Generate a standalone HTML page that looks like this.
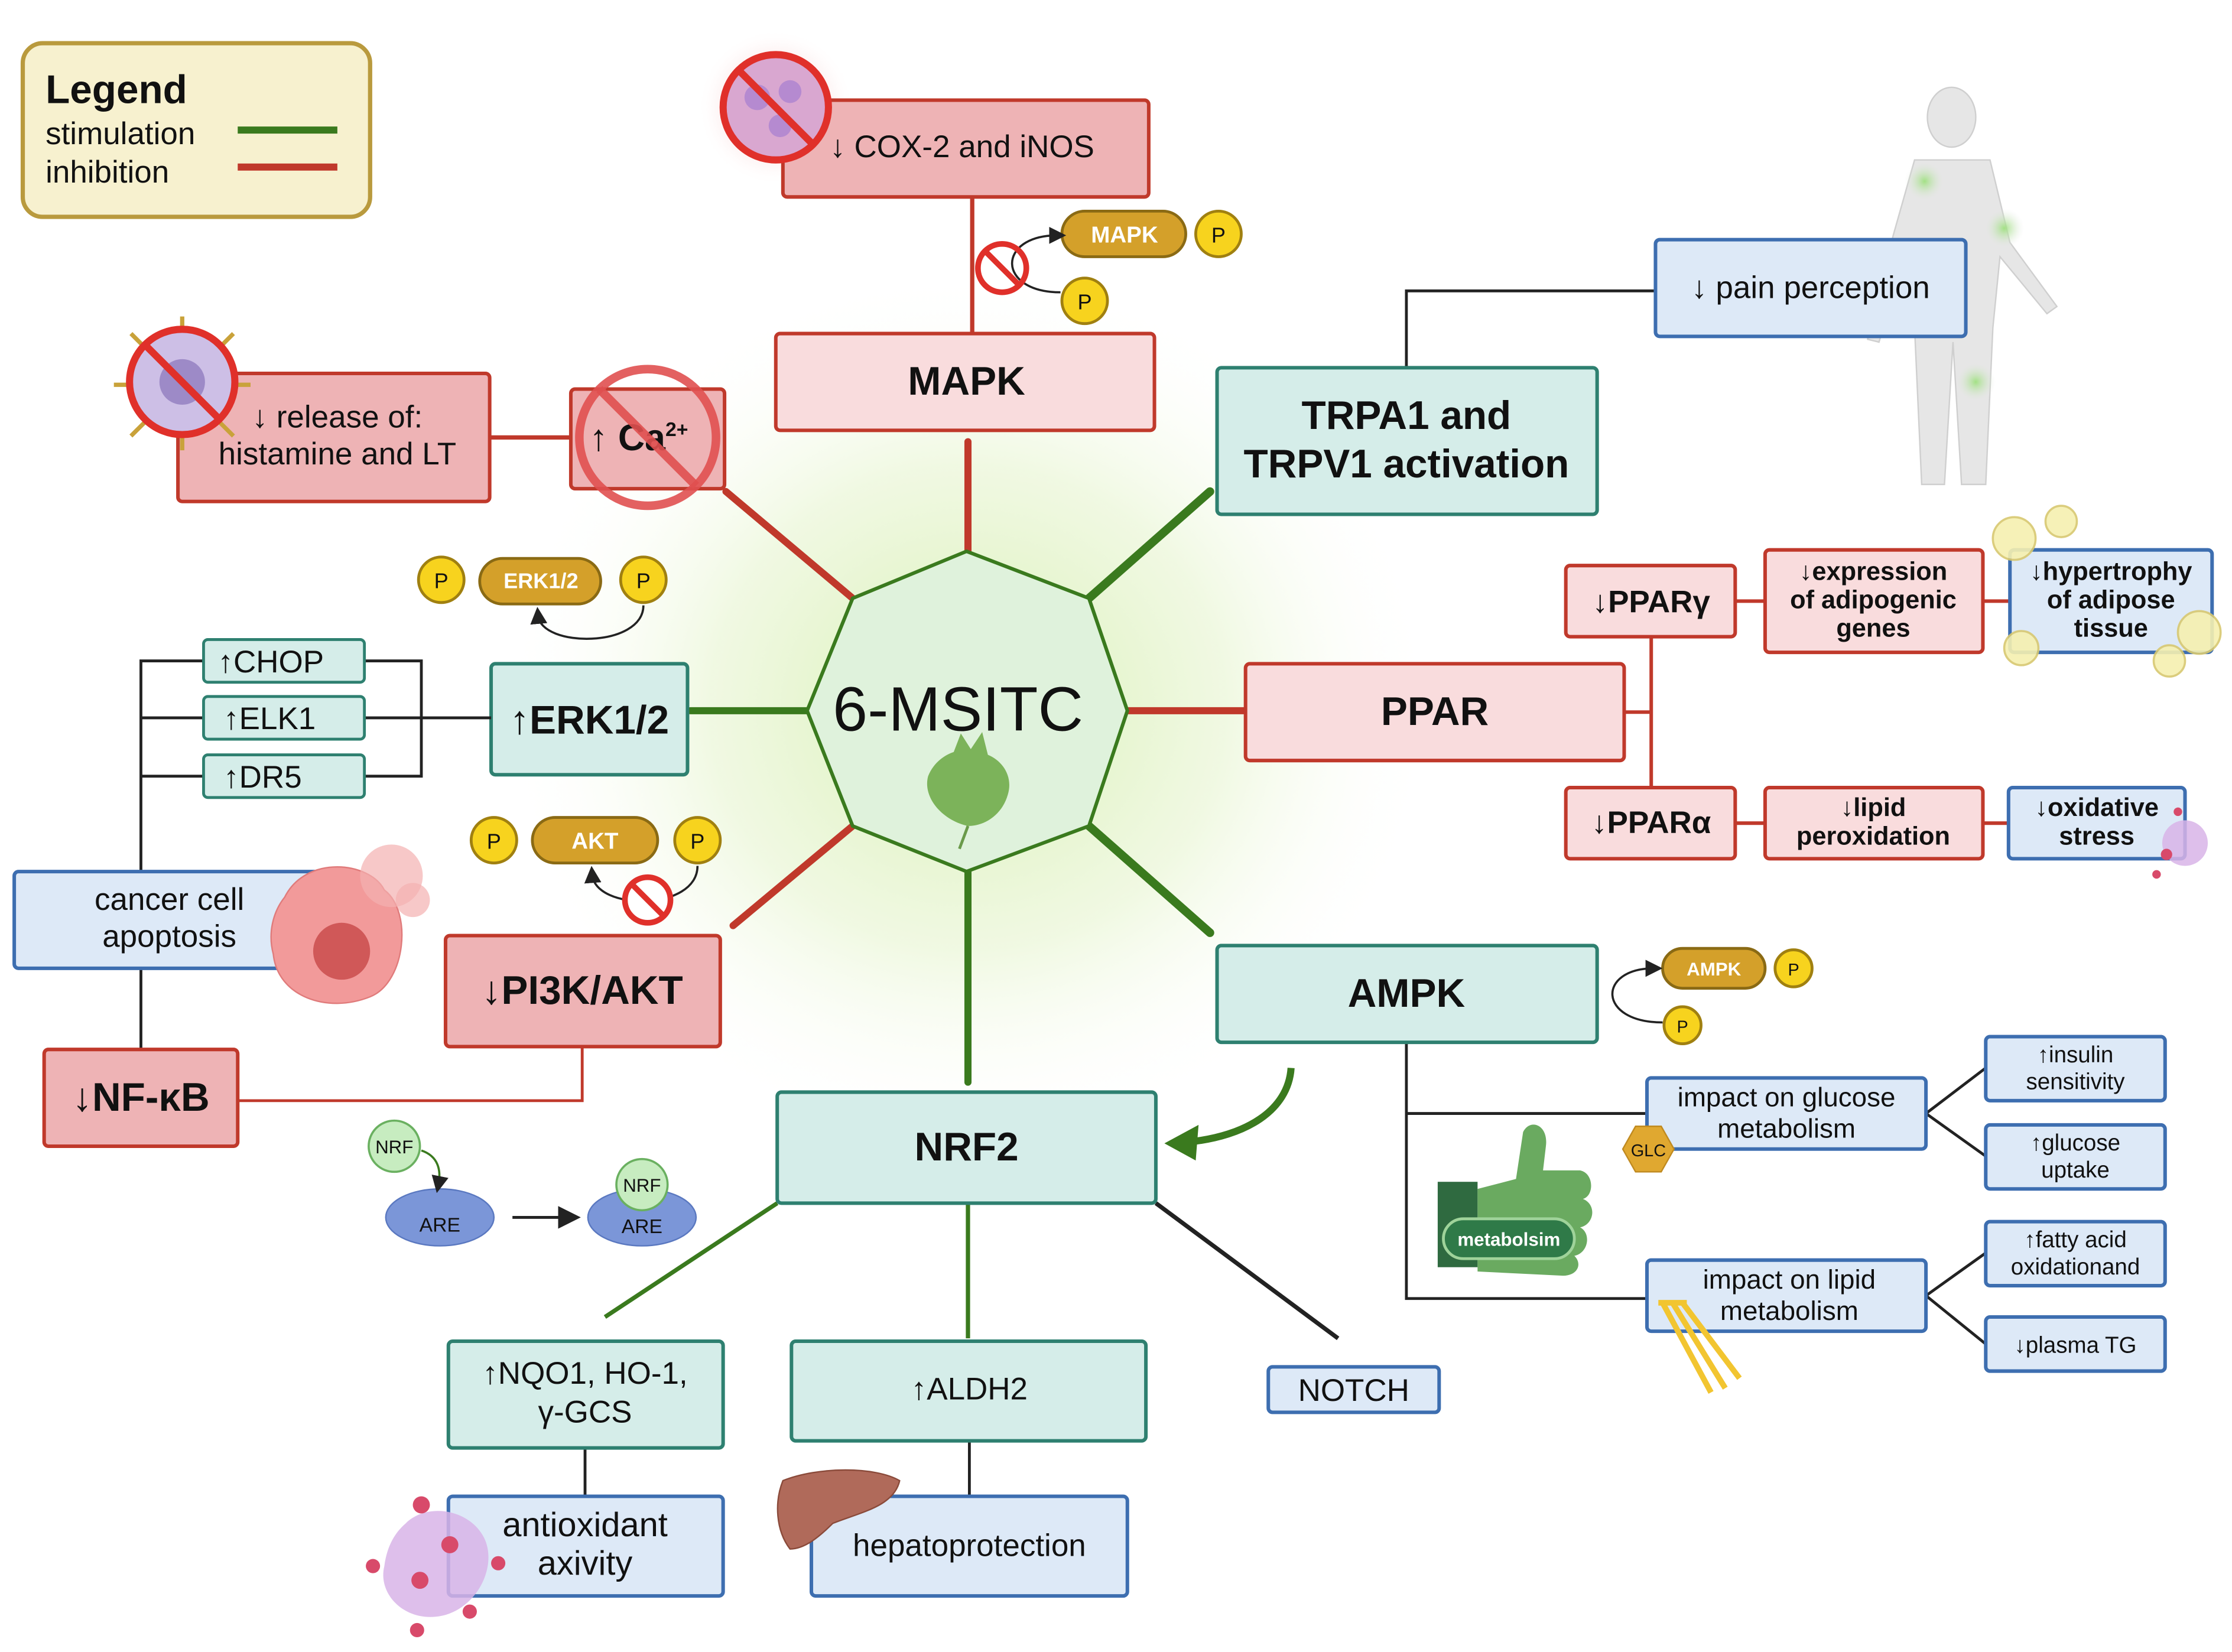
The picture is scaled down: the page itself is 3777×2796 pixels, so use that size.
<!DOCTYPE html>
<html><head><meta charset="utf-8"><style>
html,body{margin:0;padding:0;background:#fff;}
svg{display:block;}
text{font-family:"Liberation Sans",sans-serif;fill:#111;}
</style></head><body>
<svg width="3777" height="2796" viewBox="0 0 1568 1160" xmlns="http://www.w3.org/2000/svg">
<defs>
<radialGradient id="glow" cx="50%" cy="50%" r="50%">
<stop offset="0" stop-color="#d6efb0" stop-opacity="0.95"/>
<stop offset="0.55" stop-color="#eaf6d6" stop-opacity="0.7"/>
<stop offset="1" stop-color="#ffffff" stop-opacity="0"/>
</radialGradient>
<radialGradient id="redglow" cx="50%" cy="50%" r="50%">
<stop offset="0" stop-color="#f06060" stop-opacity="0.8"/>
<stop offset="1" stop-color="#ffffff" stop-opacity="0"/>
</radialGradient>
<radialGradient id="gspot" cx="50%" cy="50%" r="50%">
<stop offset="0" stop-color="#9be07a" stop-opacity="0.9"/>
<stop offset="1" stop-color="#e8e8e8" stop-opacity="0"/>
</radialGradient>
<marker id="ah" markerWidth="8" markerHeight="8" refX="4" refY="4" orient="auto"><path d="M0,0 L8,4 L0,8 z" fill="#222"/></marker>
</defs>

<!-- glow -->
<ellipse cx="680" cy="497" rx="330" ry="310" fill="url(#glow)"/>

<!-- spokes -->
<g stroke-width="5" stroke-linecap="round">
<line x1="680" y1="387" x2="680" y2="310" stroke="#c0392b"/>
<line x1="599" y1="420" x2="510" y2="345" stroke="#c0392b"/>
<line x1="765" y1="420" x2="850" y2="345" stroke="#3a7a1e" stroke-width="6"/>
<line x1="567" y1="499" x2="485" y2="499" stroke="#3a7a1e"/>
<line x1="792" y1="499" x2="875" y2="499" stroke="#c0392b"/>
<line x1="599" y1="580" x2="515" y2="650" stroke="#c0392b"/>
<line x1="765" y1="580" x2="850" y2="655" stroke="#3a7a1e" stroke-width="6"/>
<line x1="680" y1="612" x2="680" y2="760" stroke="#3a7a1e"/>
</g>

<!-- octagon -->
<polygon points="679,387 765,420 792,499 765,580 679,612 599,580 567,499 599,420" fill="#dff2dc" stroke="#3a7a1e" stroke-width="2.5"/>
<text x="673" y="513" font-size="44" text-anchor="middle">6-MSITC</text>
<path d="M680,580 C662,576 648,560 652,545 C656,535 664,530 670,528 L675,515 L682,526 L690,514 L694,530 C704,534 712,545 708,558 C704,572 692,580 680,580 Z" fill="#7cb35a"/>
<line x1="680" y1="580" x2="674" y2="596" stroke="#6a9a4a" stroke-width="2"/>

<!-- Legend -->
<rect x="16" y="30" width="244" height="122" rx="14" fill="#f7f1cf" stroke="#b99a3e" stroke-width="3"/>
<text x="32" y="72" font-size="28" font-weight="bold">Legend</text>
<text x="32" y="101" font-size="22">stimulation</text>
<text x="32" y="128" font-size="22">inhibition</text>
<line x1="167" y1="91" x2="237" y2="91" stroke="#3a7a1e" stroke-width="5"/>
<line x1="167" y1="117" x2="237" y2="117" stroke="#c0392b" stroke-width="5"/>

<!-- COX-2 -->
<circle cx="545" cy="75" r="55" fill="url(#redglow)"/>
<line x1="683" y1="234" x2="683" y2="138" stroke="#c0392b" stroke-width="3"/>
<rect x="550" y="70" width="257" height="68" rx="3" fill="#eeb3b5" stroke="#c0392b" stroke-width="2.5"/>
<text x="583" y="110" font-size="22">↓ COX-2 and iNOS</text>
<circle cx="545" cy="75" r="37" fill="#d9a7d0" stroke="#e0302a" stroke-width="5"/>
<circle cx="532" cy="68" r="9" fill="#b58ad0"/><circle cx="555" cy="64" r="8" fill="#b58ad0"/><circle cx="548" cy="88" r="8" fill="#b58ad0"/>
<line x1="519" y1="49" x2="571" y2="101" stroke="#e0302a" stroke-width="5"/>

<!-- MAPK -->
<rect x="545" y="234" width="266" height="68" rx="3" fill="#f9dcdd" stroke="#c0392b" stroke-width="2.5"/>
<text x="679" y="277" font-size="28" font-weight="bold" text-anchor="middle">MAPK</text>
<rect x="746" y="148" width="87" height="32" rx="16" fill="#d4a02a" stroke="#8a6a14" stroke-width="2"/>
<text x="790" y="170" font-size="16" font-weight="bold" fill="#fff" text-anchor="middle" style="fill:#fff">MAPK</text>
<circle cx="856" cy="164" r="16" fill="#f7d31e" stroke="#a08010" stroke-width="2"/><text x="856" y="170" font-size="15" text-anchor="middle">P</text>
<circle cx="762" cy="211" r="16" fill="#f7d31e" stroke="#a08010" stroke-width="2"/><text x="762" y="217" font-size="15" text-anchor="middle">P</text>
<path d="M745,205 C700,205 700,165 743,165" fill="none" stroke="#222" stroke-width="1.5" marker-end="url(#ah)"/>
<circle cx="704" cy="188" r="17" fill="none" stroke="#e0302a" stroke-width="4"/>
<line x1="692" y1="176" x2="716" y2="200" stroke="#e0302a" stroke-width="4"/>

<!-- TRPA1 -->
<polyline points="988,258 988,204 1163,204" fill="none" stroke="#222" stroke-width="2"/>
<rect x="855" y="258" width="267" height="103" rx="3" fill="#d5ede9" stroke="#2e8070" stroke-width="2.5"/>
<text x="988" y="301" font-size="28" font-weight="bold" text-anchor="middle">TRPA1 and</text>
<text x="988" y="335" font-size="28" font-weight="bold" text-anchor="middle">TRPV1 activation</text>
<!-- human -->
<g fill="#e6e6e6" stroke="#cfcfcf" stroke-width="1">
<ellipse cx="1371" cy="82" rx="17" ry="21"/>
<path d="M1345,112 L1398,112 L1412,170 L1445,215 L1438,220 L1405,180 L1400,230 L1395,340 L1378,340 L1372,240 L1366,340 L1350,340 L1345,230 L1338,180 L1320,240 L1312,238 L1330,165 Z"/>
</g>
<circle cx="1352" cy="127" r="14" fill="url(#gspot)"/>
<circle cx="1408" cy="160" r="14" fill="url(#gspot)"/>
<circle cx="1388" cy="268" r="14" fill="url(#gspot)"/>
<rect x="1163" y="168" width="218" height="68" rx="3" fill="#dde9f7" stroke="#3d6eb0" stroke-width="2.5"/>
<text x="1272" y="209" font-size="22" text-anchor="middle">↓ pain perception</text>

<!-- release / Ca -->
<line x1="344" y1="307" x2="401" y2="307" stroke="#c0392b" stroke-width="3"/>
<rect x="125" y="262" width="219" height="90" rx="3" fill="#eeb3b5" stroke="#c0392b" stroke-width="2.5"/>
<text x="237" y="300" font-size="22" text-anchor="middle">↓ release of:</text>
<text x="237" y="326" font-size="22" text-anchor="middle">histamine and LT</text>
<g stroke="#c9a23a" stroke-width="3"><line x1="80" y1="270" x2="176" y2="270"/><line x1="128" y1="222" x2="128" y2="316"/><line x1="92" y1="234" x2="164" y2="306"/><line x1="164" y1="234" x2="92" y2="306"/></g>
<circle cx="128" cy="268" r="37" fill="#cdbfe6" stroke="#e0302a" stroke-width="5"/>
<circle cx="128" cy="268" r="16" fill="#9d8ac7"/>
<line x1="102" y1="242" x2="154" y2="294" stroke="#e0302a" stroke-width="5"/>
<rect x="401" y="273" width="108" height="70" rx="3" fill="#eeb3b5" stroke="#c0392b" stroke-width="2.5"/>
<text x="414" y="316" font-size="26" font-weight="bold">↑ Ca<tspan font-size="14" dy="-10">2+</tspan></text>
<circle cx="455" cy="307" r="48" fill="none" stroke="#e05050" stroke-width="6" opacity="0.9"/>
<line x1="421" y1="273" x2="489" y2="341" stroke="#e05050" stroke-width="6" opacity="0.9"/>

<!-- ERK -->
<rect x="337" y="392" width="85" height="32" rx="16" fill="#d4a02a" stroke="#8a6a14" stroke-width="2"/>
<text x="380" y="413" font-size="15" font-weight="bold" text-anchor="middle" style="fill:#fff">ERK1/2</text>
<circle cx="310" cy="407" r="16" fill="#f7d31e" stroke="#a08010" stroke-width="2"/><text x="310" y="413" font-size="15" text-anchor="middle">P</text>
<circle cx="452" cy="407" r="16" fill="#f7d31e" stroke="#a08010" stroke-width="2"/><text x="452" y="413" font-size="15" text-anchor="middle">P</text>
<path d="M452,425 C452,455 380,455 378,432" fill="none" stroke="#222" stroke-width="1.5" marker-end="url(#ah)"/>
<rect x="345" y="466" width="138" height="78" rx="3" fill="#d5ede9" stroke="#2e8070" stroke-width="2.5"/>
<text x="414" y="515" font-size="28" font-weight="bold" text-anchor="middle">↑ERK1/2</text>
<g fill="none" stroke="#222" stroke-width="2">
<polyline points="256,464 296,464 296,545 256,545"/><line x1="256" y1="504" x2="345" y2="504"/>
<polyline points="143,464 99,464 99,612"/><line x1="99" y1="504" x2="143" y2="504"/><line x1="99" y1="545" x2="143" y2="545"/>
<line x1="99" y1="680" x2="99" y2="737"/>
</g>
<rect x="143" y="449" width="113" height="30" rx="3" fill="#d5ede9" stroke="#2e8070" stroke-width="2"/>
<text x="153" y="472" font-size="22">↑CHOP</text>
<rect x="143" y="489" width="113" height="30" rx="3" fill="#d5ede9" stroke="#2e8070" stroke-width="2"/>
<text x="157" y="512" font-size="22">↑ELK1</text>
<rect x="143" y="530" width="113" height="30" rx="3" fill="#d5ede9" stroke="#2e8070" stroke-width="2"/>
<text x="157" y="553" font-size="22">↑DR5</text>

<!-- cancer -->
<rect x="10" y="612" width="220" height="68" rx="3" fill="#dde9f7" stroke="#3d6eb0" stroke-width="2.5"/>
<text x="119" y="639" font-size="22" text-anchor="middle">cancer cell</text>
<text x="119" y="665" font-size="22" text-anchor="middle">apoptosis</text>
<path d="M200,630 C215,600 260,605 270,625 C290,640 285,690 260,700 C230,712 195,700 192,670 C188,655 192,640 200,630 Z" fill="#f29a9a" stroke="#e07b7b"/>
<circle cx="240" cy="668" r="20" fill="#d05858"/>
<circle cx="275" cy="615" r="22" fill="#f4b0b0" opacity="0.7"/>
<circle cx="290" cy="632" r="12" fill="#f4b0b0" opacity="0.7"/>

<!-- NF-kB -->
<polyline points="409,735 409,773 167,773" fill="none" stroke="#c0392b" stroke-width="2"/>
<rect x="31" y="737" width="136" height="68" rx="3" fill="#eeb3b5" stroke="#c0392b" stroke-width="2.5"/>
<text x="99" y="780" font-size="28" font-weight="bold" text-anchor="middle">↓NF-κB</text>

<!-- PI3K -->
<rect x="374" y="574" width="88" height="32" rx="16" fill="#d4a02a" stroke="#8a6a14" stroke-width="2"/>
<text x="418" y="596" font-size="16" font-weight="bold" text-anchor="middle" style="fill:#fff">AKT</text>
<circle cx="347" cy="590" r="16" fill="#f7d31e" stroke="#a08010" stroke-width="2"/><text x="347" y="596" font-size="15" text-anchor="middle">P</text>
<circle cx="490" cy="590" r="16" fill="#f7d31e" stroke="#a08010" stroke-width="2"/><text x="490" y="596" font-size="15" text-anchor="middle">P</text>
<path d="M490,608 C490,640 418,640 416,614" fill="none" stroke="#222" stroke-width="1.5" marker-end="url(#ah)"/>
<circle cx="455" cy="632" r="16" fill="#fff" stroke="#e0302a" stroke-width="4"/>
<line x1="444" y1="621" x2="466" y2="643" stroke="#e0302a" stroke-width="4"/>
<rect x="313" y="657" width="193" height="78" rx="3" fill="#eeb3b5" stroke="#c0392b" stroke-width="2.5"/>
<text x="409" y="705" font-size="28" font-weight="bold" text-anchor="middle">↓PI3K/AKT</text>

<!-- NRF2 -->
<g stroke-width="3" fill="none">
<line x1="546" y1="845" x2="425" y2="925" stroke="#3a7a1e"/>
<line x1="680" y1="845" x2="680" y2="940" stroke="#3a7a1e"/>
<line x1="812" y1="845" x2="940" y2="940" stroke="#222"/>
</g>
<rect x="546" y="767" width="266" height="78" rx="3" fill="#d5ede9" stroke="#2e8070" stroke-width="2.5"/>
<text x="679" y="815" font-size="28" font-weight="bold" text-anchor="middle">NRF2</text>
<path d="M907,750 C905,780 875,798 835,802" fill="none" stroke="#3a7a1e" stroke-width="5"/>
<polygon points="818,803 842,790 840,815" fill="#3a7a1e"/>
<!-- NRF ARE -->
<ellipse cx="309" cy="855" rx="38" ry="20" fill="#7b96d8" stroke="#5a78c0"/>
<text x="309" y="865" font-size="14" text-anchor="middle">ARE</text>
<circle cx="277" cy="805" r="18" fill="#c7ecc0" stroke="#6ab060" stroke-width="1.5"/><text x="277" y="810" font-size="13" text-anchor="middle">NRF</text>
<path d="M296,808 C308,812 310,822 308,832" fill="none" stroke="#3a7a1e" stroke-width="1.5" marker-end="url(#ah)"/>
<line x1="360" y1="855" x2="400" y2="855" stroke="#222" stroke-width="2" marker-end="url(#ah)"/>
<ellipse cx="451" cy="855" rx="38" ry="20" fill="#7b96d8" stroke="#5a78c0"/>
<circle cx="451" cy="832" r="18" fill="#c7ecc0" stroke="#6ab060" stroke-width="1.5"/><text x="451" y="837" font-size="13" text-anchor="middle">NRF</text>
<text x="451" y="866" font-size="14" text-anchor="middle">ARE</text>

<line x1="411" y1="1017" x2="411" y2="1051" stroke="#222" stroke-width="2"/>
<line x1="681" y1="1012" x2="681" y2="1051" stroke="#222" stroke-width="2"/>
<rect x="315" y="942" width="193" height="75" rx="3" fill="#d5ede9" stroke="#2e8070" stroke-width="2.5"/>
<text x="411" y="972" font-size="22" text-anchor="middle">↑NQO1,  HO-1,</text>
<text x="411" y="999" font-size="22" text-anchor="middle">γ-GCS</text>
<rect x="556" y="942" width="249" height="70" rx="3" fill="#d5ede9" stroke="#2e8070" stroke-width="2.5"/>
<text x="681" y="983" font-size="22" text-anchor="middle">↑ALDH2</text>
<rect x="891" y="960" width="120" height="32" rx="3" fill="#dde9f7" stroke="#3d6eb0" stroke-width="2.5"/>
<text x="951" y="984" font-size="22" text-anchor="middle">NOTCH</text>
<rect x="315" y="1051" width="193" height="70" rx="3" fill="#dde9f7" stroke="#3d6eb0" stroke-width="2.5"/>
<text x="411" y="1079" font-size="24" text-anchor="middle">antioxidant</text>
<text x="411" y="1106" font-size="24" text-anchor="middle">axivity</text>
<path d="M285,1070 C300,1055 330,1060 340,1080 C350,1100 335,1130 310,1135 C285,1140 265,1120 270,1100 C272,1085 278,1076 285,1070 Z" fill="#d8b4e8" opacity="0.85"/>
<g fill="#d84a6a"><circle cx="296" cy="1057" r="6"/><circle cx="316" cy="1085" r="6"/><circle cx="262" cy="1100" r="5"/><circle cx="295" cy="1110" r="6"/><circle cx="350" cy="1098" r="5"/><circle cx="330" cy="1132" r="5"/><circle cx="293" cy="1145" r="5"/></g>
<rect x="570" y="1051" width="222" height="70" rx="3" fill="#dde9f7" stroke="#3d6eb0" stroke-width="2.5"/>
<text x="681" y="1093" font-size="22" text-anchor="middle">hepatoprotection</text>
<path d="M550,1040 C575,1030 615,1030 632,1040 C628,1058 605,1062 585,1070 C575,1080 565,1088 555,1088 C545,1075 544,1055 550,1040 Z" fill="#b06a5a" stroke="#8a4a3a"/>

<!-- PPAR -->
<g stroke="#c0392b" stroke-width="2.5" fill="none">
<line x1="1160" y1="447" x2="1160" y2="553"/>
<line x1="1141" y1="500" x2="1160" y2="500"/>
<line x1="1219" y1="422" x2="1240" y2="422"/>
<line x1="1393" y1="422" x2="1412" y2="422"/>
<line x1="1219" y1="578" x2="1240" y2="578"/>
<line x1="1393" y1="578" x2="1411" y2="578"/>
</g>
<rect x="875" y="466" width="266" height="68" rx="3" fill="#f9dcdd" stroke="#c0392b" stroke-width="2.5"/>
<text x="1008" y="509" font-size="28" font-weight="bold" text-anchor="middle">PPAR</text>
<rect x="1100" y="397" width="119" height="50" rx="3" fill="#f9dcdd" stroke="#c0392b" stroke-width="2.5"/>
<text x="1160" y="430" font-size="22" font-weight="bold" text-anchor="middle">↓PPARγ</text>
<rect x="1240" y="386" width="153" height="72" rx="3" fill="#f9dcdd" stroke="#c0392b" stroke-width="2.5"/>
<text x="1316" y="407" font-size="18" font-weight="bold" text-anchor="middle">↓expression</text>
<text x="1316" y="427" font-size="18" font-weight="bold" text-anchor="middle">of adipogenic</text>
<text x="1316" y="447" font-size="18" font-weight="bold" text-anchor="middle">genes</text>
<rect x="1412" y="386" width="142" height="72" rx="3" fill="#dde9f7" stroke="#3d6eb0" stroke-width="2.5"/>
<text x="1483" y="407" font-size="18" font-weight="bold" text-anchor="middle">↓hypertrophy</text>
<text x="1483" y="427" font-size="18" font-weight="bold" text-anchor="middle">of adipose</text>
<text x="1483" y="447" font-size="18" font-weight="bold" text-anchor="middle">tissue</text>
<g fill="#f6f0b0" stroke="#d8c870" stroke-width="1.5" opacity="0.9">
<circle cx="1415" cy="378" r="15"/><circle cx="1448" cy="366" r="11"/><circle cx="1545" cy="444" r="15"/><circle cx="1420" cy="455" r="12"/><circle cx="1524" cy="464" r="11"/></g>
<rect x="1100" y="553" width="119" height="50" rx="3" fill="#f9dcdd" stroke="#c0392b" stroke-width="2.5"/>
<text x="1160" y="585" font-size="22" font-weight="bold" text-anchor="middle">↓PPARα</text>
<rect x="1240" y="553" width="153" height="50" rx="3" fill="#f9dcdd" stroke="#c0392b" stroke-width="2.5"/>
<text x="1316" y="573" font-size="18" font-weight="bold" text-anchor="middle">↓lipid</text>
<text x="1316" y="593" font-size="18" font-weight="bold" text-anchor="middle">peroxidation</text>
<rect x="1411" y="553" width="124" height="50" rx="3" fill="#dde9f7" stroke="#3d6eb0" stroke-width="2.5"/>
<text x="1473" y="573" font-size="18" font-weight="bold" text-anchor="middle">↓oxidative</text>
<text x="1473" y="593" font-size="18" font-weight="bold" text-anchor="middle">stress</text>
<circle cx="1535" cy="592" r="16" fill="#d8b4e8" opacity="0.85"/>
<g fill="#d84a6a"><circle cx="1522" cy="600" r="4"/><circle cx="1515" cy="614" r="3"/><circle cx="1530" cy="570" r="3"/></g>

<!-- AMPK -->
<g fill="none" stroke="#222" stroke-width="2">
<polyline points="988,732 988,912 1157,912"/>
<line x1="988" y1="782" x2="1157" y2="782"/>
<line x1="1353" y1="782" x2="1395" y2="750"/>
<line x1="1353" y1="782" x2="1395" y2="812"/>
<line x1="1353" y1="910" x2="1395" y2="880"/>
<line x1="1353" y1="910" x2="1395" y2="944"/>
</g>
<rect x="855" y="664" width="267" height="68" rx="3" fill="#d5ede9" stroke="#2e8070" stroke-width="2.5"/>
<text x="988" y="707" font-size="28" font-weight="bold" text-anchor="middle">AMPK</text>
<rect x="1168" y="666" width="72" height="28" rx="14" fill="#d4a02a" stroke="#8a6a14" stroke-width="2"/>
<text x="1204" y="685" font-size="13" font-weight="bold" text-anchor="middle" style="fill:#fff">AMPK</text>
<circle cx="1260" cy="680" r="13" fill="#f7d31e" stroke="#a08010" stroke-width="2"/><text x="1260" y="685" font-size="12" text-anchor="middle">P</text>
<circle cx="1182" cy="720" r="13" fill="#f7d31e" stroke="#a08010" stroke-width="2"/><text x="1182" y="725" font-size="12" text-anchor="middle">P</text>
<path d="M1168,718 C1122,718 1122,680 1162,680" fill="none" stroke="#222" stroke-width="1.5" marker-end="url(#ah)"/>
<rect x="1157" y="757" width="196" height="50" rx="3" fill="#dde9f7" stroke="#3d6eb0" stroke-width="2.5"/>
<text x="1255" y="777" font-size="19" text-anchor="middle">impact on glucose</text>
<text x="1255" y="799" font-size="19" text-anchor="middle">metabolism</text>
<polygon points="1140,807 1149,791 1167,791 1176,807 1167,823 1149,823" fill="#e0a830" stroke="#c08a20"/>
<text x="1158" y="812" font-size="12" text-anchor="middle">GLC</text>
<rect x="1157" y="885" width="196" height="50" rx="3" fill="#dde9f7" stroke="#3d6eb0" stroke-width="2.5"/>
<text x="1257" y="905" font-size="19" text-anchor="middle">impact on lipid</text>
<text x="1257" y="927" font-size="19" text-anchor="middle">metabolism</text>
<g stroke="#f2c530" stroke-width="4"><line x1="1165" y1="915" x2="1185" y2="915"/><line x1="1175" y1="915" x2="1212" y2="975"/><line x1="1182" y1="915" x2="1222" y2="968"/><line x1="1168" y1="915" x2="1202" y2="978"/></g>
<!-- thumb -->
<rect x="1010" y="830" width="28" height="60" fill="#2f6a40"/>
<path d="M1038,835 L1065,828 L1070,795 C1075,785 1088,790 1086,805 L1084,822 L1110,822 C1120,824 1120,840 1112,842 C1122,846 1120,860 1110,862 C1118,866 1116,880 1106,882 C1112,888 1108,896 1098,896 L1038,893 Z" fill="#6aaa60"/>
<rect x="1014" y="856" width="92" height="28" rx="14" fill="#2f7a48" stroke="#9fd39a" stroke-width="2"/>
<text x="1060" y="875" font-size="13" font-weight="bold" text-anchor="middle" style="fill:#fff">metabolsim</text>
<rect x="1395" y="728" width="126" height="45" rx="3" fill="#dde9f7" stroke="#3d6eb0" stroke-width="2.5"/>
<text x="1458" y="746" font-size="16" text-anchor="middle">↑insulin</text>
<text x="1458" y="765" font-size="16" text-anchor="middle">sensitivity</text>
<rect x="1395" y="790" width="126" height="45" rx="3" fill="#dde9f7" stroke="#3d6eb0" stroke-width="2.5"/>
<text x="1458" y="808" font-size="16" text-anchor="middle">↑glucose</text>
<text x="1458" y="827" font-size="16" text-anchor="middle">uptake</text>
<rect x="1395" y="858" width="126" height="45" rx="3" fill="#dde9f7" stroke="#3d6eb0" stroke-width="2.5"/>
<text x="1458" y="876" font-size="16" text-anchor="middle">↑fatty acid</text>
<text x="1458" y="895" font-size="16" text-anchor="middle">oxidationand</text>
<rect x="1395" y="925" width="126" height="38" rx="3" fill="#dde9f7" stroke="#3d6eb0" stroke-width="2.5"/>
<text x="1458" y="950" font-size="16" text-anchor="middle">↓plasma TG</text>
</svg>
</body></html>
